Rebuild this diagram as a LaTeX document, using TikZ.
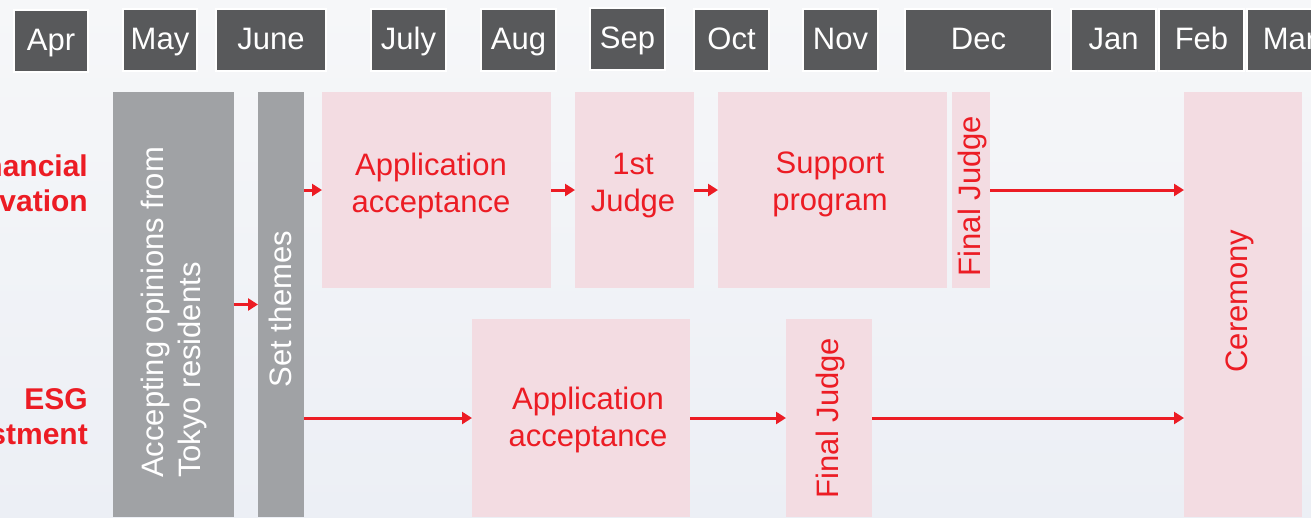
\documentclass[tikz,border=0pt]{standalone}
\usepackage{fontspec}
\setmainfont{Liberation Sans}
\usetikzlibrary{arrows.meta}
\definecolor{monthgray}{HTML}{58595B}
\definecolor{bargray}{HTML}{A0A2A5}
\definecolor{stagepink}{HTML}{F3DCE2}
\definecolor{redtxt}{HTML}{EC1C24}
\definecolor{bgtop}{HTML}{F6F7F9}
\definecolor{bgbot}{HTML}{ECEFF5}
\newcommand\mtxt{\fontsize{31}{37}\selectfont}
\newcommand\btxt{\fontsize{30}{35}\selectfont\bfseries}
\begin{document}
\begin{tikzpicture}[x=1pt,y=-1pt,
  monthbox/.style={fill=monthgray, draw=white, line width=1.2pt, text=white,
    minimum height=62pt, inner sep=0pt, outer sep=0pt, font=\mtxt,
    text height=23pt, text depth=5pt},
  graybar/.style={fill=bargray, inner sep=0pt, outer sep=0pt},
  stagebox/.style={fill=stagepink, inner sep=0pt, outer sep=0pt},
  lbl/.style={inner sep=0pt, font=\mtxt, align=center},
  arr/.style={draw=redtxt, line width=3pt, -{Triangle[length=10pt,width=12pt]}}]
\useasboundingbox (0,0) rectangle (1311,517);
\clip (0,0) rectangle (1311,517);
\shade[top color=bgtop, bottom color=bgbot] (0,0) rectangle (1311,517);

% months
\node[monthbox, minimum width=74pt] (apr) at (51,41) {Apr};
\node[monthbox, minimum width=74pt] (may) at (160,40) {May};
\node[monthbox, minimum width=110pt] (jun) at (271,40) {June};
\node[monthbox, minimum width=75pt] (jul) at (408.5,40) {July};
\node[monthbox, minimum width=75pt] (aug) at (518.5,40) {Aug};
\node[monthbox, minimum width=75pt] (sep) at (627.5,39) {Sep};
\node[monthbox, minimum width=75pt] (oct) at (731.5,40) {Oct};
\node[monthbox, minimum width=75pt] (nov) at (840.5,40) {Nov};
\node[monthbox, minimum width=147pt] (dec) at (978.5,40) {Dec};
\node[monthbox, minimum width=85pt] (jan) at (1113.5,40) {Jan};
\node[monthbox, minimum width=85pt] (feb) at (1201.5,40) {Feb};
\node[monthbox, minimum width=85pt] (mar) at (1289.5,40) {Mar};

% row labels
\node[inner sep=0pt, font=\btxt, text=redtxt, align=right, anchor=east] (fin) at (88,183) {Financial\\Innovation};
\node[inner sep=0pt, font=\btxt, text=redtxt, align=right, anchor=east] (esg) at (88,417) {ESG\\Investment};

% gray bars
\node[graybar, minimum width=121pt, minimum height=425pt] (acc) at (173.5,304.5) {};
\node[graybar, minimum width=46pt, minimum height=425pt] (set) at (281,304.5) {};
\node[lbl, text=white, rotate=90, align=left, anchor=west] (acctxt) at (174,478) {Accepting opinions from\\Tokyo residents};
\node[lbl, text=white, rotate=90] (settxt) at (280,309) {Set themes};

% top row
\node[stagebox, minimum width=229pt, minimum height=196pt] (app1) at (436.5,190) {};
\node[stagebox, minimum width=119pt, minimum height=196pt] (j1) at (634.5,190) {};
\node[stagebox, minimum width=229pt, minimum height=196pt] (sup) at (832.5,190) {};
\node[stagebox, minimum width=38pt, minimum height=196pt] (fj1) at (971,190) {};
\node[stagebox, minimum width=118pt, minimum height=425pt] (cer) at (1243,304.5) {};
% bottom row
\node[stagebox, minimum width=218pt, minimum height=198pt] (app2) at (581,418) {};
\node[stagebox, minimum width=86pt, minimum height=198pt] (fj2) at (829,418) {};

% stage texts
\node[lbl, text=redtxt] (app1txt) at (431,186) {Application\\acceptance};
\node[lbl, text=redtxt] (j1txt) at (633,186) {1st\\Judge};
\node[lbl, text=redtxt] (suptxt) at (830,184) {Support\\program};
\node[lbl, text=redtxt, rotate=90] (fj1txt) at (972,196) {Final Judge};
\node[lbl, text=redtxt, rotate=90] (certxt) at (1240,301) {Ceremony};
\node[lbl, text=redtxt] (app2txt) at (588,420) {Application\\acceptance};
\node[lbl, text=redtxt, rotate=90] (fj2txt) at (830,418) {Final Judge};

% arrows
\draw[arr] (acc.east) -- (set.west);
\draw[arr] (set.east |- app1.west) -- (app1.west);
\draw[arr] (app1.east) -- (j1.west);
\draw[arr] (j1.east) -- (sup.west);
\draw[arr] (fj1.east) -- (cer.west |- fj1.east);
\draw[arr] (set.east |- app2.west) -- (app2.west);
\draw[arr] (app2.east) -- (fj2.west);
\draw[arr] (fj2.east) -- (cer.west |- fj2.east);
\end{tikzpicture}
\end{document}
